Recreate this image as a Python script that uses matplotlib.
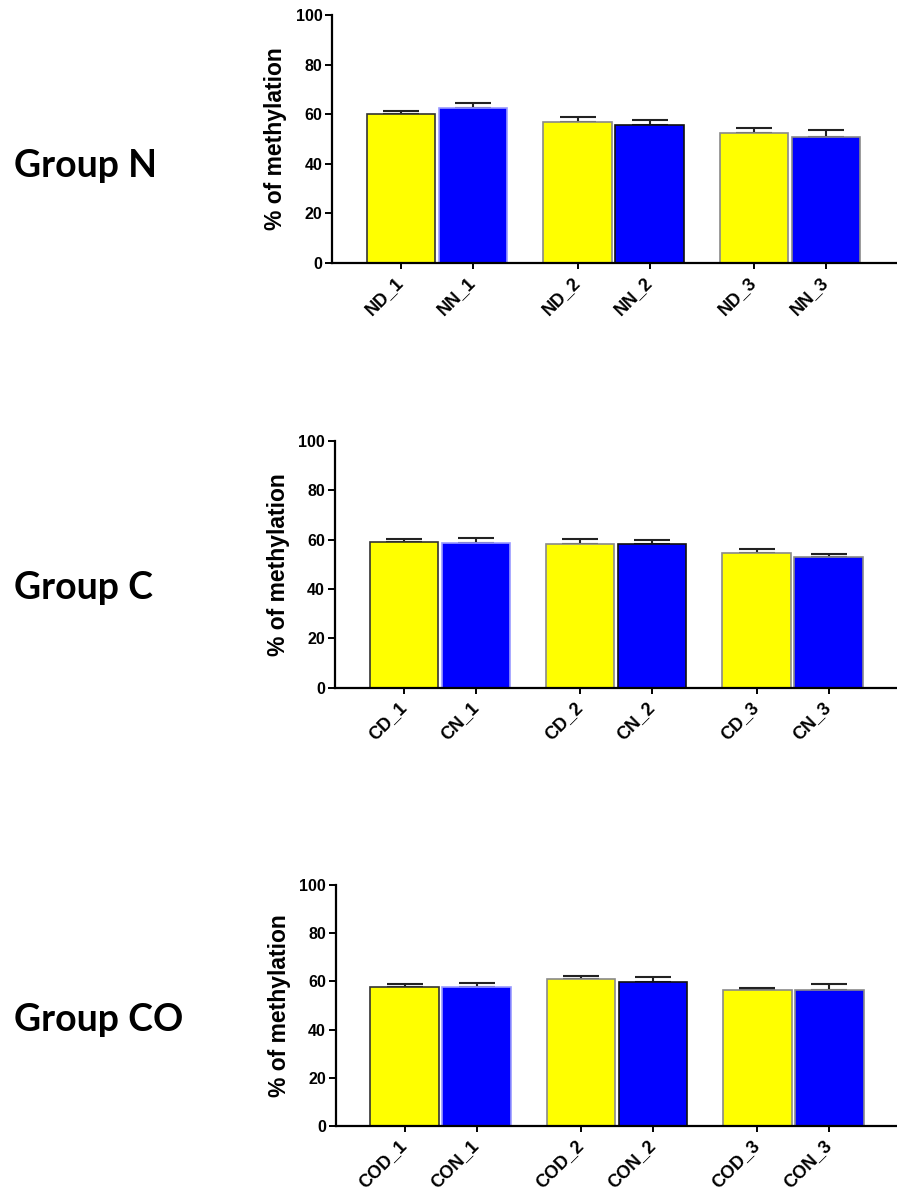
import matplotlib
matplotlib.use("Agg")
import matplotlib.pyplot as plt
import numpy as np

# ---------------- data ----------------
group_names = ["Group N", "Group C", "Group CO"]

labels_N = ["ND_1", "NN_1", "ND_2", "NN_2", "ND_3", "NN_3"]
values_N = [60.1, 62.6, 56.9, 55.4, 52.2, 50.7]
errors_N = [1.1, 1.7, 1.9, 2.4, 2.1, 2.7]

labels_C = ["CD_1", "CN_1", "CD_2", "CN_2", "CD_3", "CN_3"]
values_C = [58.9, 58.6, 58.4, 58.4, 54.6, 53.1]
errors_C = [1.4, 2.1, 1.7, 1.5, 1.6, 1.1]

labels_CO = ["COD_1", "CON_1", "COD_2", "CON_2", "COD_3", "CON_3"]
values_CO = [57.7, 57.5, 61.1, 59.9, 56.6, 56.6]
errors_CO = [1.4, 1.8, 1.0, 1.8, 0.5, 2.2]

y_ticks = [0, 20, 40, 60, 80, 100]
ylabel = "% of methylation"

# ---------------- style ----------------
W, H = 897, 1191
DPI = 100
bar_colors = ["#FFFF00", "#0000FF"] * 3
edge_colors = ["#333333", "#9a9aff", "#8a8a8a", "#111111", "#8a8a8a", "#8a8a8a"]
PX_PER_UNIT = 72.0
GROUP_STEP = 2.45
XMIN = -0.96

# axes boxes in pixels: (left, top, bottom)
boxes = [(332, 15, 262.7), (334.7, 441, 687.7), (335.5, 885, 1126)]
group_baselines = [177, 599, 1031]

datasets = [(labels_N, values_N, errors_N),
            (labels_C, values_C, errors_C),
            (labels_CO, values_CO, errors_CO)]

fig = plt.figure(figsize=(W / DPI, H / DPI), dpi=DPI)
fig.patch.set_facecolor("white")

tick_font = ["Liberation Sans", "DejaVu Sans"]

for (labels, vals, errs), (left, top, bottom), gname, base in zip(
        datasets, boxes, group_names, group_baselines):
    width_px = W - left
    ax = fig.add_axes([left / W, 1 - bottom / H, width_px / W, (bottom - top) / H])
    n = len(vals)
    x = np.array([(i // 2) * GROUP_STEP + (i % 2) for i in range(n)])
    ax.bar(x, vals, width=0.95, color=bar_colors, edgecolor=edge_colors,
           linewidth=1.2, zorder=2)
    ax.errorbar(x, vals, yerr=[np.zeros(n), errs], fmt="none", ecolor="#222222",
                elinewidth=1.5, capsize=13, capthick=1.5, zorder=1)
    ax.set_xlim(XMIN, XMIN + width_px / PX_PER_UNIT)
    ax.set_ylim(0, 100)
    ax.set_yticks(y_ticks)
    ax.set_xticks(x)
    ax.set_xticklabels(labels, rotation=45, ha="right", va="center",
                       rotation_mode="anchor", fontsize=13, fontweight="bold",
                       family=tick_font)
    for lab in ax.get_yticklabels():
        lab.set_fontsize(11.5)
        lab.set_fontweight("bold")
        lab.set_family(tick_font)
    for s in ["top", "right"]:
        ax.spines[s].set_visible(False)
    for s in ["left", "bottom"]:
        ax.spines[s].set_linewidth(1.6)
        ax.spines[s].set_color("black")
    ax.spines["left"].set_bounds(0, 100)
    ax.tick_params(axis="y", length=5, width=1.4, pad=2)
    ax.tick_params(axis="x", length=4.5, width=1.4, pad=8)
    ax.set_ylabel(ylabel, fontsize=16.5, fontweight="bold", family=tick_font,
                  labelpad=6)
    ax.patch.set_alpha(0)

    fig.text(14 / W, 1 - base / H, gname, ha="left", va="baseline",
             fontsize=27, fontweight="bold", family=["Lato", "DejaVu Sans"])

fig.savefig("out.png", dpi=DPI, facecolor="white")
